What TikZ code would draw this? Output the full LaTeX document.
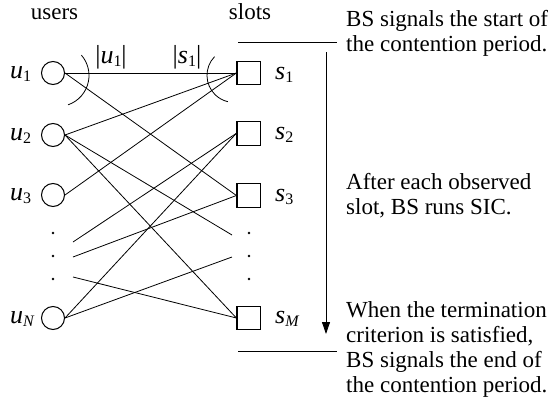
\documentclass[tikz,border=0pt]{standalone}
\usepackage{fontspec}
\setmainfont{Liberation Serif}
\usetikzlibrary{arrows.meta}
\newcommand\lab[2]{\textit{#1}\raisebox{-3.5pt}{\fontsize{16}{16}\selectfont #2}}
\tikzset{
  user/.style={circle,draw,minimum size=23pt,inner sep=0pt,line width=1pt},
  slot/.style={rectangle,draw,minimum size=23.5pt,inner sep=0pt,line width=1.1pt},
  edge/.style={line width=0.8pt},
  dot/.style={circle,fill,inner sep=0pt,minimum size=2.6pt},
  mathlab/.style={font=\fontsize{26}{30}\selectfont,inner sep=0pt,anchor=base west},
  txt/.style={font=\fontsize{23}{25}\selectfont,inner sep=0pt,anchor=base west},
  hdr/.style={font=\fontsize{23}{25}\selectfont,inner sep=0pt,anchor=base},
}
\begin{document}
\begin{tikzpicture}[x=1pt,y=-1pt]
\useasboundingbox (0,0) rectangle (550,410);
% headers
\node[hdr] (users) at (54.5,19) {users};
\node[hdr] (slots) at (250,19) {slots};
% users
\node[user] (u1) at (53,73) {};
\node[user] (u2) at (53,135) {};
\node[user] (u3) at (53,195) {};
\node[user] (uN) at (53,318) {};
\node[mathlab] (lu1) at (10,78) {\lab{u}{1}};
\node[mathlab] (lu2) at (10,140) {\lab{u}{2}};
\node[mathlab] (lu3) at (10,200) {\lab{u}{3}};
\node[mathlab] (luN) at (10,323) {\lab{u}{\textit{N}}};
% slots
\node[slot] (s1) at (248.7,73) {};
\node[slot] (s2) at (248.7,133.3) {};
\node[slot] (s3) at (248.7,195.5) {};
\node[slot] (sM) at (248.7,318) {};
\node[mathlab] (ls1) at (275,79) {\lab{s}{1}};
\node[mathlab] (ls2) at (275,139) {\lab{s}{2}};
\node[mathlab] (ls3) at (275,201) {\lab{s}{3}};
\node[mathlab] (lsM) at (275,323) {\lab{s}{\textit{M}}};
% dots
\node[dot] (ld1) at (53,233) {};
\node[dot] (ld2) at (53,256) {};
\node[dot] (ld3) at (53,279) {};
\node[dot] (rd1) at (249,233) {};
\node[dot] (rd2) at (249,256) {};
\node[dot] (rd3) at (249,279) {};
% free ends
\coordinate (l1) at (73,242);
\coordinate (l2) at (73,257);
\coordinate (l3) at (73,277);
\coordinate (r1) at (232,235);
\coordinate (r2) at (232,257);
% edges
\draw[edge] (u1.east) -- (s1.west);
\draw[edge] (u1.east) -- (s3.west);
\draw[edge] (u2.east) -- (s1.west);
\draw[edge] (u2.east) -- (sM.west);
\draw[edge] (u2.east) -- (r1);
\draw[edge] (u3.east) -- (s1.west);
\draw[edge] (uN.east) -- (s2.west);
\draw[edge] (uN.east) -- (r2);
\draw[edge] (l1) -- (s2.west);
\draw[edge] (l2) -- (s3.west);
\draw[edge] (l3) -- (sM.west);
% degree arcs
\coordinate (ca) at (58,75.5);
\coordinate (cb) at (234,75.4);
\draw[edge] ([shift={(71:31)}]ca) arc[start angle=71,end angle=-41,radius=31];
\draw[edge] ([shift={(-136:27)}]cb) arc[start angle=-136,end angle=-257,radius=27];
\node[font=\fontsize{26}{30}\selectfont,inner sep=0pt,anchor=base] (du) at (111,63) {|\lab{u}{1}|};
\node[font=\fontsize{26}{30}\selectfont,inner sep=0pt,anchor=base] (ds) at (187,63) {|\lab{s}{1}|};
% period markers
\coordinate (tl) at (238,42);
\coordinate (tr) at (337,42);
\coordinate (bl) at (238,351);
\coordinate (br) at (337,351);
\draw[edge] (tl) -- (tr);
\draw[edge] (bl) -- (br);
\coordinate (at) at (326,52);
\coordinate (ab) at (326,334);
\draw[edge,-{Triangle[length=12pt,width=8pt]}] (at) -- (ab);
% texts
\node[txt] (t1) at (346,26) {\begin{tabular}[t]{@{}l@{}}BS signals the start of\\the contention period.\end{tabular}};
\node[txt] (t2) at (346,189) {\begin{tabular}[t]{@{}l@{}}After each observed\\slot, BS runs SIC.\end{tabular}};
\node[txt] (t3) at (346,317) {\begin{tabular}[t]{@{}l@{}}When the termination\\criterion is satisfied,\\BS signals the end of\\the contention period.\end{tabular}};
\end{tikzpicture}
\end{document}
